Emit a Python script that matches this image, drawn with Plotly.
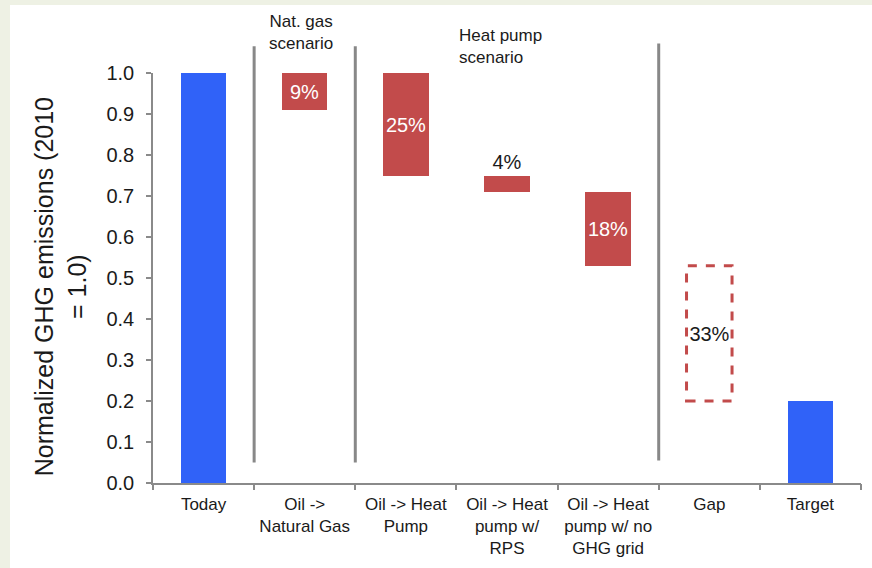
import plotly.graph_objects as go

# Waterfall of normalized heating GHG emissions (2010 = 1.0)
categories = [
    "Today",
    "Oil -><br>Natural Gas",
    "Oil -> Heat<br>Pump",
    "Oil -> Heat<br>pump w/<br>RPS",
    "Oil -> Heat<br>pump w/ no<br>GHG grid",
    "Gap",
    "Target",
]
bar_base = [0.0, 0.91, 0.75, 0.71, 0.53, 0.20, 0.0]
bar_top = [1.0, 1.0, 1.0, 0.75, 0.71, 0.53, 0.20]
bar_labels = ["", "9%", "25%", "4%", "18%", "33%", ""]
label_pos = ["none", "inside", "inside", "outside", "inside", "inside", "none"]
label_color = ["white", "white", "white", "#1a1a1a", "white", "#1a1a1a", "white"]

BLUE = "#3062f8"
RED = "#c24b4b"
bar_colors = [BLUE, RED, RED, RED, RED, "rgba(0,0,0,0)", BLUE]

# scenario separators (category boundary index, bottom, top in y units)
sep_x = [0.5, 1.5, 4.5]
sep_bottom = [0.05, 0.05, 0.055]
sep_top = [1.065, 1.065, 1.072]

y_ticks = [round(0.1 * i, 1) for i in range(11)]

FONT = "Liberation Sans, Arial, sans-serif"
TXT = "#1a1a1a"
AXIS = "#8a8a8a"
BAR_W = 0.45
n = len(categories)

heights = [t - b for t, b in zip(bar_top, bar_base)]
boundaries = [i - 0.5 for i in range(n + 1)]

fig = go.Figure()
fig.add_trace(go.Bar(
    x=list(range(n)),
    y=heights,
    base=bar_base,
    width=BAR_W,
    marker=dict(color=bar_colors, line=dict(width=0)),
    text=bar_labels,
    textposition=label_pos,
    insidetextanchor="middle",
    textangle=0,
    textfont=dict(family=FONT, size=20, color=label_color),
    constraintext="none",
    cliponaxis=False,
    hoverinfo="skip",
))
# invisible helper trace that carries the boundary tick axis
fig.add_trace(go.Scatter(
    x=boundaries, y=[0] * len(boundaries), xaxis="x2",
    mode="markers", marker=dict(opacity=0), hoverinfo="skip",
))

shapes = []
# white panel on the tinted page
shapes.append(dict(type="rect", xref="paper", yref="paper",
                   x0=-0.202, x1=1.03, y0=-0.25, y1=1.166,
                   fillcolor="white", line=dict(width=0), layer="below"))

# dashed outline for the remaining gap
gi = categories.index("Gap")
shapes.append(dict(type="rect", xref="x", yref="y",
                   x0=gi - BAR_W / 2, x1=gi + BAR_W / 2,
                   y0=bar_base[gi], y1=bar_top[gi],
                   line=dict(color=RED, width=3, dash="dash"),
                   fillcolor="rgba(0,0,0,0)", layer="above"))

# vertical scenario separators (y range is [0, 1] so paper == data)
for sx, sb, st in zip(sep_x, sep_bottom, sep_top):
    shapes.append(dict(type="line", xref="x", yref="paper",
                       x0=sx, x1=sx, y0=sb, y1=st,
                       line=dict(color="#888888", width=3)))

annotations = [
    dict(text="Nat. gas<br>scenario", xref="x", yref="paper",
         x=1, y=1.098, xshift=-4, xanchor="center", yanchor="middle",
         showarrow=False, align="center",
         font=dict(family=FONT, size=17, color=TXT)),
    dict(text="Heat pump<br>scenario", xref="x", yref="paper",
         x=2.5, y=1.065, xshift=1, xanchor="left", yanchor="middle",
         showarrow=False, align="left",
         font=dict(family=FONT, size=17, color=TXT)),
    dict(text="Normalized GHG emissions (2010<br>= 1.0)", xref="paper", yref="paper",
         x=-0.131, y=0.478, xanchor="center", yanchor="middle",
         textangle=-90, showarrow=False, align="center",
         font=dict(family=FONT, size=25, color=TXT)),
]

fig.update_layout(
    width=872, height=568,
    margin=dict(l=153, r=11, t=73, b=85, autoexpand=False),
    paper_bgcolor="#eef1e4",
    plot_bgcolor="white",
    showlegend=False,
    shapes=shapes,
    annotations=annotations,
    font=dict(family=FONT, color=TXT),
    bargap=0,
    xaxis=dict(
        range=[-0.5, n - 0.5],
        tickmode="array",
        tickvals=list(range(n)),
        ticktext=categories,
        ticks="",
        ticklabelstandoff=5,
        automargin=False,
        showline=True, linecolor=AXIS, linewidth=1.5,
        showgrid=False, zeroline=False,
        tickfont=dict(family=FONT, size=17, color=TXT),
        fixedrange=True,
    ),
    xaxis2=dict(
        overlaying="x", side="bottom",
        range=[-0.5, n - 0.5],
        tickmode="array",
        tickvals=boundaries,
        ticktext=[""] * len(boundaries),
        ticks="outside", ticklen=6, tickcolor=AXIS, tickwidth=1.5,
        automargin=False,
        showline=False, showgrid=False, zeroline=False,
        fixedrange=True,
    ),
    yaxis=dict(
        range=[0, 1.0],
        tickmode="array",
        tickvals=y_ticks,
        ticktext=[f"{v:.1f}" for v in y_ticks],
        ticks="outside", ticklen=5, tickcolor=AXIS, tickwidth=1.5,
        ticklabelstandoff=8,
        automargin=False,
        showline=True, linecolor=AXIS, linewidth=1.5,
        showgrid=False, zeroline=False,
        tickfont=dict(family=FONT, size=20, color=TXT),
        fixedrange=True,
    ),
)

fig.write_html("out.html")
